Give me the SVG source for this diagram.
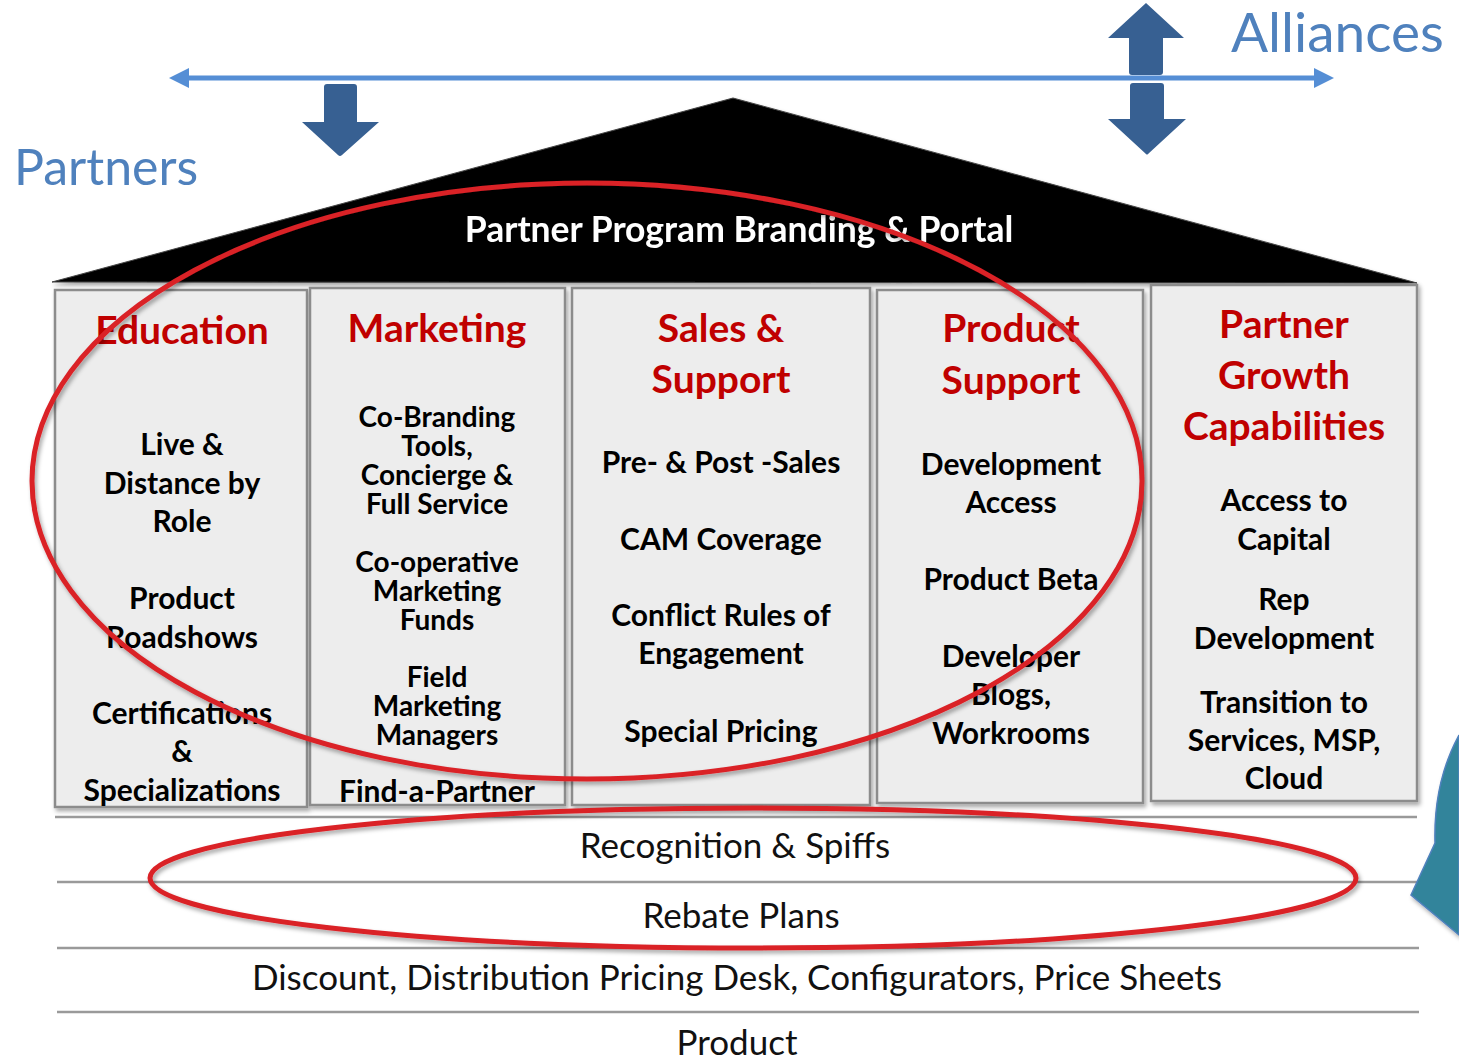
<svg xmlns="http://www.w3.org/2000/svg" width="1459" height="1060" viewBox="0 0 1459 1060">
<defs>
<filter id="sh" x="-5%" y="-5%" width="110%" height="110%">
<feDropShadow dx="2" dy="3" stdDeviation="2" flood-color="#000" flood-opacity="0.35"/>
</filter>
<marker id="ah" viewBox="0 0 20 20" refX="2" refY="10" markerWidth="20" markerHeight="20" markerUnits="userSpaceOnUse" orient="auto-start-reverse">
<path d="M0,0 L20,10 L0,20 Z" fill="#558ED5"/>
</marker>
</defs>
<style>
.col{fill:#EDEDED;stroke:#8C8C8C;stroke-width:2.5}
.hd{font-family:Lato,"Liberation Sans",sans-serif;font-weight:bold;font-size:39px;fill:#C00000;text-anchor:middle}
.it{font-family:Lato,"Liberation Sans",sans-serif;font-weight:bold;font-size:30px;fill:#000;text-anchor:middle}
.mk{font-size:28px}
.row{font-family:Lato,"Liberation Sans",sans-serif;font-size:35px;fill:#111;text-anchor:middle}
.big{font-family:Lato,"Liberation Sans",sans-serif;fill:#4F81BD}
.hl{stroke:#9A9A9A;stroke-width:2.5}
.blk{fill:#376092}
.red{fill:none;stroke:#DA2128;stroke-width:5}
</style>

<g id="labels">
<text class="big" x="14" y="185" font-size="50">Partners</text>
<text class="big" x="1231" y="52" font-size="55">Alliances</text>
</g>

<g id="connectors">
<line x1="187" y1="78" x2="1316" y2="78" stroke="#558ED5" stroke-width="5" marker-start="url(#ah)" marker-end="url(#ah)"/>
<path class="blk" d="M327,84 H354 Q357,84 357,87 V122 H379 L342,155 Q340,157 338,155 L302,122 H324 V87 Q324,84 327,84 Z"/>
<path class="blk" d="M1146,3 L1184,38 H1163 V72 Q1163,75 1160,75 H1132 Q1129,75 1129,72 V38 H1108 Z"/>
<path class="blk" d="M1133,83 H1161 Q1164,83 1164,86 V119 H1186 L1148,154 Q1147,155 1146,154 L1108,119 H1130 V86 Q1130,83 1133,83 Z"/>
</g>

<g id="roof" filter="url(#sh)">
<polygon points="52,282 733,98 1417,283" fill="#050505" stroke="#444" stroke-width="1"/>
<text x="739" y="242" font-family="Lato,'Liberation Sans',sans-serif" font-weight="bold" font-size="35.5" fill="#fff" text-anchor="middle">Partner Program Branding &amp; Portal</text>
</g>

<g id="education">
<rect class="col" x="55" y="290" width="252" height="517" filter="url(#sh)"/>
<text class="hd" x="182" y="344">Education</text>
<text class="it" x="182" y="455">Live &amp;</text>
<text class="it" x="182" y="494">Distance by</text>
<text class="it" x="182" y="532">Role</text>
<text class="it" x="182" y="609">Product</text>
<text class="it" x="182" y="648">Roadshows</text>
<text class="it" x="182" y="724">Certifications</text>
<text class="it" x="182" y="762">&amp;</text>
<text class="it" x="182" y="801">Specializations</text>
</g>

<g id="marketing">
<rect class="col" x="310" y="288" width="255" height="517" filter="url(#sh)"/>
<text class="hd" x="437" y="342">Marketing</text>
<text class="it mk" x="437" y="427">Co-Branding</text>
<text class="it mk" x="437" y="456">Tools,</text>
<text class="it mk" x="437" y="485">Concierge &amp;</text>
<text class="it mk" x="437" y="514">Full Service</text>
<text class="it mk" x="437" y="572">Co-operative</text>
<text class="it mk" x="437" y="601">Marketing</text>
<text class="it mk" x="437" y="630">Funds</text>
<text class="it mk" x="437" y="687">Field</text>
<text class="it mk" x="437" y="716">Marketing</text>
<text class="it mk" x="437" y="745">Managers</text>
<text class="it" x="437" y="802">Find-a-Partner</text>
</g>

<g id="sales">
<rect class="col" x="572" y="288" width="298" height="517" filter="url(#sh)"/>
<text class="hd" x="721" y="342">Sales &amp;</text>
<text class="hd" x="721" y="393">Support</text>
<text class="it" x="721" y="473">Pre- &amp; Post -Sales</text>
<text class="it" x="721" y="550">CAM Coverage</text>
<text class="it" x="721" y="626">Conflict Rules of</text>
<text class="it" x="721" y="664">Engagement</text>
<text class="it" x="721" y="742">Special Pricing</text>
</g>

<g id="product-support">
<rect class="col" x="877" y="290" width="266" height="513" filter="url(#sh)"/>
<text class="hd" x="1011" y="342">Product</text>
<text class="hd" x="1011" y="394">Support</text>
<text class="it" x="1011" y="475">Development</text>
<text class="it" x="1011" y="513">Access</text>
<text class="it" x="1011" y="590">Product Beta</text>
<text class="it" x="1011" y="667">Developer</text>
<text class="it" x="1011" y="705">Blogs,</text>
<text class="it" x="1011" y="744">Workrooms</text>
</g>

<g id="growth">
<rect class="col" x="1151" y="285" width="266" height="516" filter="url(#sh)"/>
<text class="hd" x="1284" y="338">Partner</text>
<text class="hd" x="1284" y="389">Growth</text>
<text class="hd" x="1284" y="440">Capabilities</text>
<text class="it" x="1284" y="511">Access to</text>
<text class="it" x="1284" y="550">Capital</text>
<text class="it" x="1284" y="610">Rep</text>
<text class="it" x="1284" y="649">Development</text>
<text class="it" x="1284" y="713">Transition to</text>
<text class="it" x="1284" y="751">Services, MSP,</text>
<text class="it" x="1284" y="789">Cloud</text>
</g>

<g id="foundation">
<line class="hl" x1="55" y1="817" x2="1417" y2="817"/>
<line class="hl" x1="57" y1="882" x2="1419" y2="882"/>
<line class="hl" x1="57" y1="948" x2="1419" y2="948"/>
<line class="hl" x1="57" y1="1012" x2="1419" y2="1012"/>
<text class="row" x="735" y="858">Recognition &amp; Spiffs</text>
<text class="row" x="741" y="928">Rebate Plans</text>
<text class="row" x="737" y="990">Discount, Distribution Pricing Desk, Configurators, Price Sheets</text>
<text class="row" x="737" y="1055">Product</text>
</g>

<g id="highlights" filter="url(#sh)">
<ellipse class="red" cx="587" cy="481" rx="555" ry="298"/>
<ellipse class="red" cx="753" cy="878" rx="603" ry="70"/>
</g>

<g id="teal">
<path d="M1459,735 C1440,770 1434,805 1435,843 L1411,895 L1459,935 Z" fill="#31849B" stroke="#4F81BD" stroke-width="1.5" filter="url(#sh)"/>
</g>
</svg>
